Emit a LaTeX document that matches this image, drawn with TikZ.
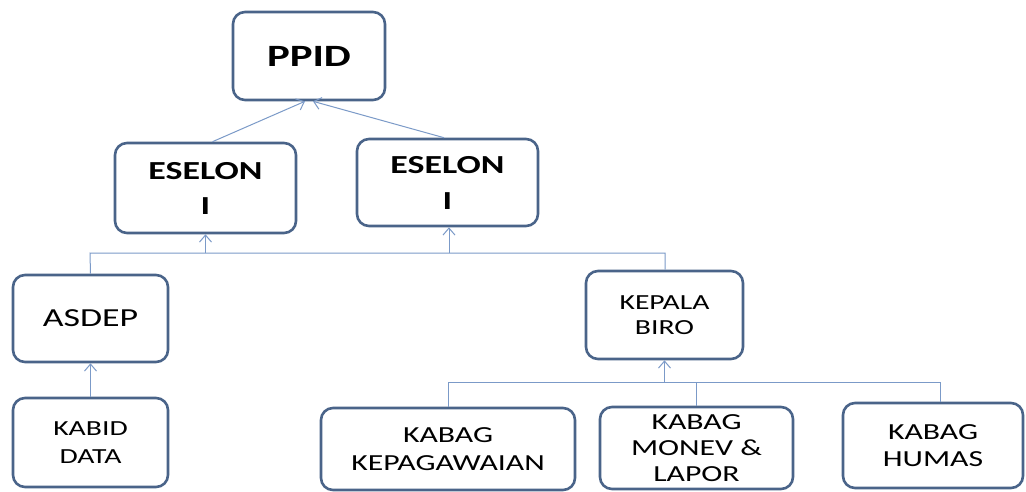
\documentclass[tikz,border=0pt]{standalone}
\usepackage{fontspec}
\setmainfont{Carlito}[FakeStretch=1.38]
\usetikzlibrary{arrows.meta}
\definecolor{boxline}{HTML}{4A6489}
\definecolor{conn}{HTML}{7B9AC8}
\tikzset{
  orgbox/.style={draw=boxline, line width=2.6pt, rounded corners=12pt, fill=white,
    align=center, inner sep=0pt},
  conline/.style={draw=conn, line width=1pt},
  uparrow/.style={conline, -{Straight Barb[length=7pt,width=12pt,line width=1pt]}},
}
\begin{document}
\begin{tikzpicture}[x=1pt,y=-1pt]
\useasboundingbox (0,0) rectangle (1026,491);
\clip (0,0) rectangle (1026,491);
\fill[white] (0,0) rectangle (1026,491);

\node[orgbox, minimum width=152pt, minimum height=88pt,
  font=\fontsize{31}{36}\selectfont\bfseries] (ppid) at (309,56) {PPID};
\node[orgbox, minimum width=181pt, minimum height=90pt,
  font=\fontsize{26}{35}\selectfont\bfseries] (esl) at (205.5,188) {ESELON\\I};
\node[orgbox, minimum width=181pt, minimum height=87pt,
  font=\fontsize{26}{36}\selectfont\bfseries] (esr) at (447.5,182.5) {ESELON\\I};
\node[orgbox, minimum width=155pt, minimum height=87pt,
  font=\fontsize{26}{31}\selectfont] (asdep) at (90.5,318.5) {ASDEP};
\node[orgbox, minimum width=155pt, minimum height=89pt,
  font=\fontsize{21.5}{28}\selectfont] (kabid) at (90.5,442.5) {KABID\\DATA};
\node[orgbox, minimum width=157pt, minimum height=88pt,
  font=\fontsize{21.5}{25}\selectfont] (kepala) at (664.5,315) {KEPALA\\BIRO};
\node[orgbox, minimum width=254pt, minimum height=82pt,
  font=\fontsize{23}{28}\selectfont] (kepeg) at (448,449) {KABAG\\KEPAGAWAIAN};
\node[orgbox, minimum width=193pt, minimum height=82pt,
  font=\fontsize{23}{26}\selectfont] (monev) at (696.5,448) {KABAG\\MONEV \&\\LAPOR};
\node[orgbox, minimum width=180pt, minimum height=85pt,
  font=\fontsize{23}{27}\selectfont] (humas) at (933,445.5) {KABAG\\HUMAS};

% ESELON -> PPID
\draw[uparrow] ([xshift=7pt]esl.north) -- ([xshift=-4pt]ppid.south);
\draw[uparrow] ([xshift=-3.5pt]esr.north) -- ([xshift=4pt]ppid.south);

% bus under ESELON
\coordinate (busA) at (90,253);
\coordinate (busB) at (665,253);
\draw[conline] (asdep.north) -- (busA) -- (busB) -- (busB |- kepala.north);
\draw[uparrow] (esl.south |- busA) -- (esl.south);
\draw[uparrow] ([xshift=1.5pt]esr.south |- busA) -- ([xshift=1.5pt]esr.south);

% KABID -> ASDEP
\draw[uparrow] (kabid.north) -- (asdep.south);

% bus under KEPALA BIRO
\coordinate (busC) at (448,382);
\coordinate (busD) at (940,382);
\draw[conline] (kepeg.north) -- (busC) -- (busD) -- (busD |- humas.north);
\draw[conline] (monev.north |- busC) -- (monev.north);
\draw[uparrow] (kepala.south |- busC) -- (kepala.south);
\end{tikzpicture}
\end{document}
